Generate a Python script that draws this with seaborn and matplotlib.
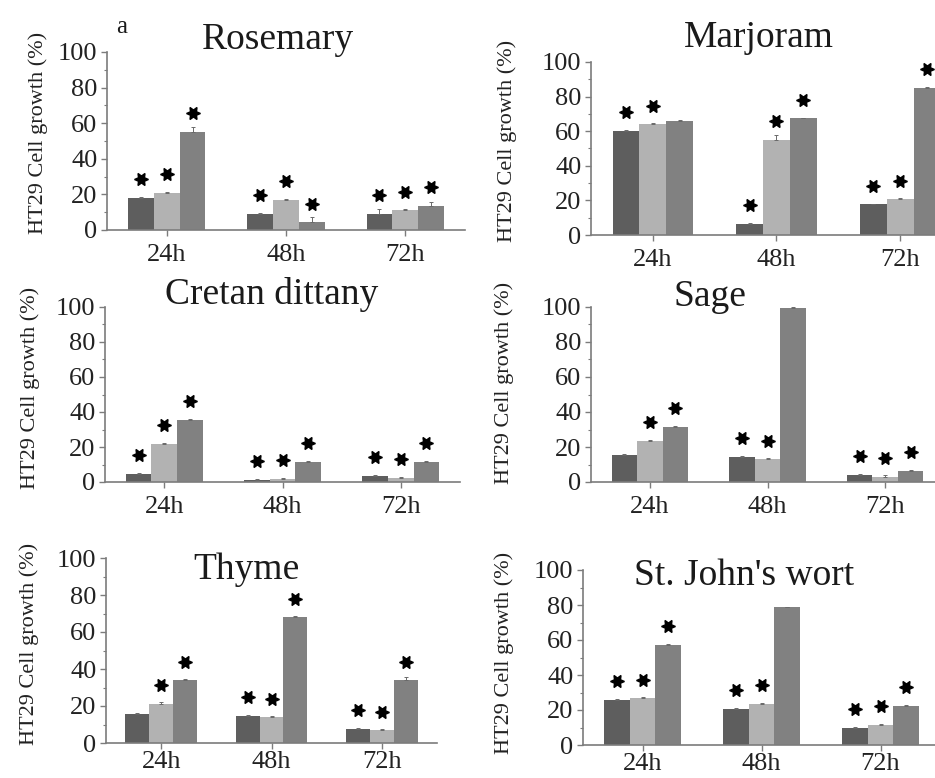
import numpy as np
import pandas as pd
import matplotlib
matplotlib.use("Agg")
import matplotlib.pyplot as plt
import matplotlib.transforms as mtransforms
from matplotlib.container import BarContainer
from matplotlib.ticker import MultipleLocator
import seaborn as sns

# ---------------- data ----------------
times = ["24h", "48h", "72h"]
series = ["Dose 1", "Dose 2", "Dose 3"]
plants = ["Rosemary", "Marjoram", "Cretan dittany", "Sage", "Thyme", "St. John's wort"]

rosemary_dark = [18.0, 9.0, 9.0]
rosemary_light = [21.0, 17.0, 11.0]
rosemary_mid = [55.0, 4.3, 13.5]
rosemary_err = [[0.5, 0.5, 3.0], [0.5, 0.3, 1.0], [3.0, 3.0, 2.0]]
rosemary_star = [[1, 1, 1], [1, 1, 1], [1, 1, 1]]

marjoram_dark = [60.0, 6.4, 17.7]
marjoram_light = [64.0, 55.0, 20.6]
marjoram_mid = [66.0, 67.4, 85.0]
marjoram_err = [[0.5, 0.5, 0.5], [0.5, 3.0, 1.0], [0.5, 0.5, 0.5]]
marjoram_star = [[1, 1, 1], [1, 1, 1], [0, 1, 1]]

dittany_dark = [4.8, 1.3, 3.6]
dittany_light = [21.7, 1.9, 2.3]
dittany_mid = [35.6, 11.4, 11.4]
dittany_err = [[0.5, 0.3, 0.5], [0.5, 0.5, 0.5], [0.5, 0.5, 0.5]]
dittany_star = [[1, 1, 1], [1, 1, 1], [1, 1, 1]]

sage_dark = [15.3, 14.3, 4.2]
sage_light = [23.5, 13.0, 2.9]
sage_mid = [31.5, 99.4, 6.3]
sage_err = [[0.5, 0.5, 0.5], [0.5, 1.0, 1.0], [0.5, 0.5, 0.5]]
sage_star = [[0, 1, 1], [1, 1, 1], [1, 0, 1]]

thyme_dark = [15.9, 14.8, 7.7]
thyme_light = [21.0, 13.9, 6.8]
thyme_mid = [33.9, 67.9, 33.9]
thyme_err = [[0.5, 0.5, 0.5], [1.0, 0.5, 0.5], [0.5, 0.5, 2.0]]
thyme_star = [[0, 1, 1], [1, 1, 1], [1, 1, 1]]

wort_dark = [25.6, 20.6, 9.9]
wort_light = [26.6, 23.4, 11.7]
wort_mid = [57.2, 78.6, 22.5]
wort_err = [[0.5, 0.5, 0.5], [1.0, 0.5, 0.5], [0.5, 0.5, 0.5]]
wort_star = [[1, 1, 1], [1, 1, 1], [1, 0, 1]]

panel_data = [
    (rosemary_dark, rosemary_light, rosemary_mid, rosemary_err, rosemary_star),
    (marjoram_dark, marjoram_light, marjoram_mid, marjoram_err, marjoram_star),
    (dittany_dark, dittany_light, dittany_mid, dittany_err, dittany_star),
    (sage_dark, sage_light, sage_mid, sage_err, sage_star),
    (thyme_dark, thyme_light, thyme_mid, thyme_err, thyme_star),
    (wort_dark, wort_light, wort_mid, wort_err, wort_star),
]

ylabel = "HT29 Cell growth (%)"
yticks = [0, 20, 40, 60, 80, 100]

# ---------------- style / layout ----------------
colors = ["#5e5e5e", "#b2b2b2", "#818181"]
W, H = 935, 778

sns.set_theme(style="white")
plt.rcParams["font.family"] = ["Liberation Serif", "DejaVu Serif"]

fig = plt.figure(figsize=(W / 100, H / 100), dpi=100)
fig.patch.set_facecolor("white")

# axes boxes in pixels: left, right, top(y=100), bottom(y=0)
boxes = [
    (107, 465, 52, 230),
    (591, 962, 62, 235),
    (105, 460, 307, 482),
    (591, 944, 307, 482),
    (106, 437, 558, 743),
    (583, 940, 570, 745),
]
xpads = [6, 6, 6, 6, 2, 1.5]
# title centers (px)
title_pos = [(278, 40), (759, 38), (272, 295), (710, 297), (246, 570), (744, 576)]
# y-label centers (px)
ylab_pos = [(38, 133), (507, 141), (30, 388), (504, 383), (29, 644), (504, 653)]

spine_col = "#7c7c7c"

for i, (dark, light, mid, err, star) in enumerate(panel_data):
    l, r, t, b = boxes[i]
    ax = fig.add_axes([l / W, 1 - b / H, (r - l) / W, (b - t) / H])
    rows = []
    for s, vals in zip(series, [dark, light, mid]):
        for tm, v in zip(times, vals):
            rows.append({"time": tm, "growth": v, "series": s})
    df = pd.DataFrame(rows)
    sns.barplot(data=df, x="time", y="growth", hue="series", order=times,
                hue_order=series, palette=colors, width=0.65, errorbar=None,
                saturation=1, legend=False, linewidth=0, ax=ax)

    star_trans = mtransforms.offset_copy(ax.transData, fig=fig, x=0, y=13.5, units="points")
    bar_conts = [c for c in ax.containers if isinstance(c, BarContainer)]
    for k, cont in enumerate(bar_conts):
        xs = [p.get_x() + p.get_width() / 2 for p in cont.patches]
        hs = [p.get_height() for p in cont.patches]
        ax.errorbar(xs, hs, yerr=[np.zeros(3), err[k]], fmt="none",
                    ecolor="#6a6a6a", elinewidth=0.7, capsize=1.5, capthick=0.7)
        sx = [x for x, f in zip(xs, star[k]) if f]
        sy = [h for h, f in zip(hs, star[k]) if f]
        ax.plot(sx, sy, linestyle="none", marker=(6, 1, 30), markersize=10,
                color="black", transform=star_trans, clip_on=False)

    ax.set_xlim(-0.5, 2.5)
    ax.set_ylim(0, 100)
    ax.set_yticks(yticks)
    ax.yaxis.set_minor_locator(MultipleLocator(10))
    ax.set_xlabel("")
    ax.set_ylabel("")
    for side in ["top", "right"]:
        ax.spines[side].set_visible(False)
    for side in ["left", "bottom"]:
        ax.spines[side].set_color(spine_col)
        ax.spines[side].set_linewidth(1.2)
    ax.set_facecolor("white")
    ax.tick_params(axis="y", which="major", direction="out", length=4, width=1,
                   color=spine_col, pad=3, labelsize=19, labelcolor="#222222", left=True)
    ax.tick_params(axis="y", which="minor", direction="out", length=2.5, width=0.8,
                   color=spine_col, left=True)
    ax.tick_params(axis="x", which="major", direction="out", length=4, width=1,
                   color=spine_col, pad=xpads[i], labelsize=19, labelcolor="#222222",
                   bottom=True)
    ax.patch.set_alpha(0)

    tx, ty = title_pos[i]
    fig.text(tx / W, 1 - ty / H, plants[i], fontsize=27, ha="center", va="center",
             color="#1a1a1a")
    lx, ly = ylab_pos[i]
    fig.text(lx / W, 1 - ly / H, ylabel, fontsize=16, rotation=90, ha="center",
             va="center", color="#222222")

fig.text(122 / W, 1 - 27 / H, "a", fontsize=18, ha="center", va="center", color="#1a1a1a")

fig.savefig("out.png", dpi=100, facecolor="white")
